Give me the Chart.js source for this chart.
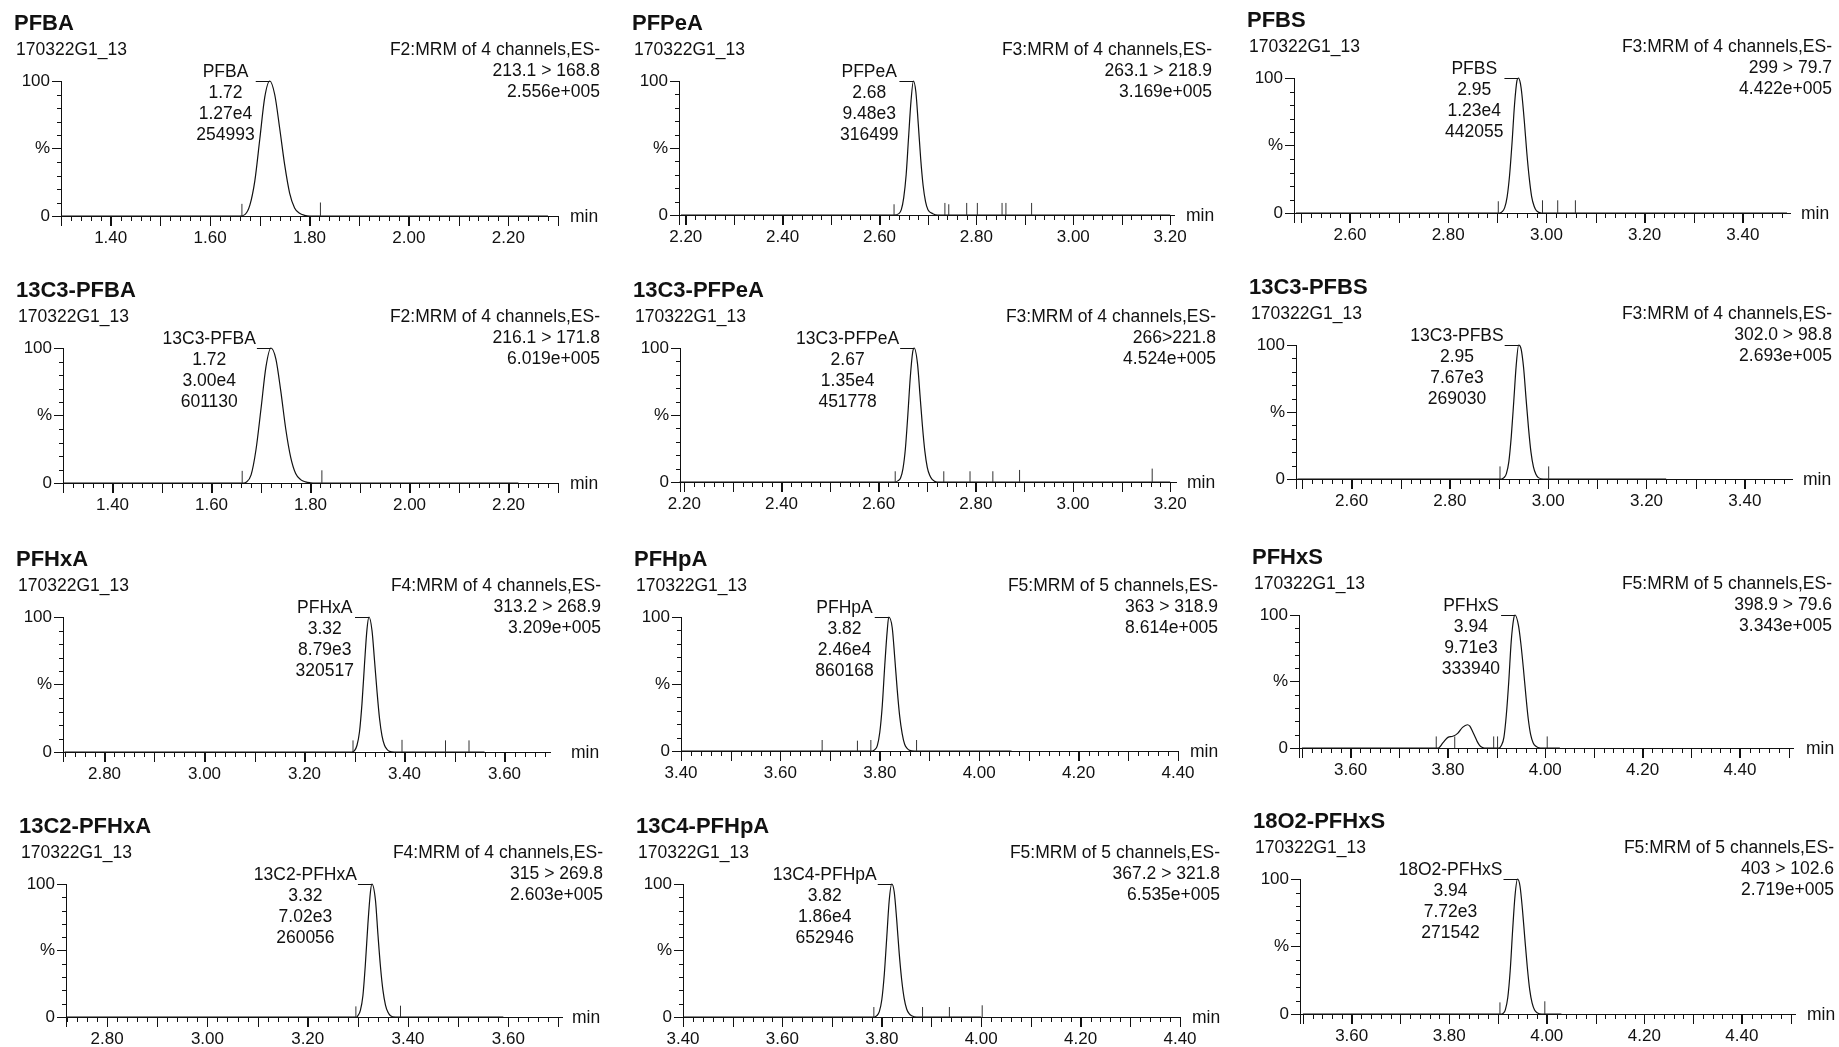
<!DOCTYPE html>
<html>
<head>
<meta charset="utf-8">
<title>Cromatogramas MRM 170322G1_13</title>
<script src="https://cdn.jsdelivr.net/npm/chart.js@4.4.1/dist/chart.umd.min.js"></script>
<style>
  html, body { margin: 0; padding: 0; background: #ffffff; }
  body { width: 1839px; height: 1047px; position: relative; overflow: hidden; }
  canvas { position: absolute; }
</style>
</head>
<body>
<script>
const muestra = '170322G1_13';

const compuestos = ['PFBA', 'PFPeA', 'PFBS', '13C3-PFBA', '13C3-PFPeA', '13C3-PFBS',
                    'PFHxA', 'PFHpA', 'PFHxS', '13C2-PFHxA', '13C4-PFHpA', '18O2-PFHxS'];

const funciones = ['F2:MRM of 4 channels,ES-', 'F3:MRM of 4 channels,ES-', 'F3:MRM of 4 channels,ES-',
                   'F2:MRM of 4 channels,ES-', 'F3:MRM of 4 channels,ES-', 'F3:MRM of 4 channels,ES-',
                   'F4:MRM of 4 channels,ES-', 'F5:MRM of 5 channels,ES-', 'F5:MRM of 5 channels,ES-',
                   'F4:MRM of 4 channels,ES-', 'F5:MRM of 5 channels,ES-', 'F5:MRM of 5 channels,ES-'];

const transiciones = ['213.1 > 168.8', '263.1 > 218.9', '299 > 79.7',
                      '216.1 > 171.8', '266>221.8', '302.0 > 98.8',
                      '313.2 > 268.9', '363 > 318.9', '398.9 > 79.6',
                      '315 > 269.8', '367.2 > 321.8', '403 > 102.6'];

const intensidades = ['2.556e+005', '3.169e+005', '4.422e+005',
                      '6.019e+005', '4.524e+005', '2.693e+005',
                      '3.209e+005', '8.614e+005', '3.343e+005',
                      '2.603e+005', '6.535e+005', '2.719e+005'];

// etiqueta del pico: tiempo de retencion, altura, area
const picoTR = ['1.72', '2.68', '2.95', '1.72', '2.67', '2.95', '3.32', '3.82', '3.94', '3.32', '3.82', '3.94'];
const picoAltura = ['1.27e4', '9.48e3', '1.23e4', '3.00e4', '1.35e4', '7.67e3',
                    '8.79e3', '2.46e4', '9.71e3', '7.02e3', '1.86e4', '7.72e3'];
const picoArea = ['254993', '316499', '442055', '601130', '451778', '269030',
                  '320517', '860168', '333940', '260056', '652946', '271542'];

// rango del eje de tiempo (min)
const xMin = [1.30, 2.186, 2.486, 1.30, 2.191, 2.487, 2.717, 3.40, 3.494, 2.718, 3.40, 3.494];
const xMax = [2.30, 3.208, 3.496, 2.30, 3.212, 3.496, 3.691, 4.40, 4.509, 3.707, 4.40, 4.509];

// etiquetas de los ejes
const ticksPFBA = [1.40, 1.60, 1.80, 2.00, 2.20];
const ticksPFPeA = [2.20, 2.40, 2.60, 2.80, 3.00, 3.20];
const ticksPFBS = [2.60, 2.80, 3.00, 3.20, 3.40];
const ticksPFHxA = [2.80, 3.00, 3.20, 3.40, 3.60];
const ticksPFHpA = [3.40, 3.60, 3.80, 4.00, 4.20, 4.40];
const ticksPFHxS = [3.60, 3.80, 4.00, 4.20, 4.40];
const valoresY = [0, 50, 100];
const etiquetasY = ['0', '%', '100'];

// trazas (tiempo en min, senal en %)
const tiempoPFBA = [1.30, 1.66, 1.67, 1.68, 1.69, 1.70, 1.71, 1.72, 1.73, 1.74, 1.75, 1.76, 1.77, 1.78, 1.79, 1.80, 2.28];
const senalPFBA  = [0,    0,    1,    8,    26,   57,   88,   100,  90,   65,   38,   17,   6,    2,    0.5,  0,    0];
const marcasPFBA = [[1.664, 9], [1.822, 10]];

const tiempoPFPeA = [2.19, 2.63, 2.64, 2.645, 2.65, 2.655, 2.66, 2.665, 2.67, 2.675, 2.68, 2.685, 2.69, 2.695, 2.70, 2.71, 2.72, 3.20];
const senalPFPeA  = [0,    0,    1,    4,     13,   30,    58,   85,    100,  92,    68,   42,    22,   10,    4,    1,    0,    0];
const marcasPFPeA = [[2.63, 8], [2.735, 9], [2.743, 8], [2.78, 9], [2.802, 9], [2.853, 9], [2.861, 9], [2.914, 9]];

const tiempoPFBS = [2.49, 2.905, 2.91, 2.915, 2.92, 2.925, 2.93, 2.935, 2.94, 2.943, 2.947, 2.95, 2.955, 2.96, 2.965, 2.97, 2.975, 2.98, 2.99, 3.49];
const senalPFBS  = [0,    0,     1,    4,     12,   28,    52,   80,    98,   100,   96,    88,   68,    45,   26,    12,   5,     1.5,  0,    0];
const marcasPFBS = [[2.902, 8.7], [2.992, 9.4], [3.023, 9.4], [3.059, 9.4]];

const tiempo13C3PFBA = [1.30, 1.665, 1.67, 1.68, 1.69, 1.70, 1.71, 1.72, 1.73, 1.74, 1.75, 1.76, 1.77, 1.78, 1.79, 1.80, 1.81, 2.22];
const senal13C3PFBA  = [0,    0,     0.5,  6,    25,   55,   86,   100,  92,   68,   40,   19,   7,    2.5,  0.8,  0.2,  0,    0];
const marcas13C3PFBA = [[1.662, 9], [1.823, 9.4]];

const tiempo13C3PFPeA = [2.19, 2.635, 2.64, 2.645, 2.65, 2.655, 2.66, 2.665, 2.67, 2.673, 2.68, 2.685, 2.69, 2.695, 2.70, 2.705, 2.71, 2.72, 3.20];
const senal13C3PFPeA  = [0,    0,     1,    3,     10,   25,    50,   78,    97,   100,   88,   65,    42,   23,    11,   5,     2,    0,    0];
const marcas13C3PFPeA = [[2.634, 8], [2.734, 8], [2.788, 8], [2.835, 8], [2.89, 9], [3.163, 10]];

const tiempo13C3PFBS = [2.49, 2.905, 2.91, 2.915, 2.92, 2.925, 2.93, 2.935, 2.94, 2.945, 2.95, 2.955, 2.96, 2.965, 2.97, 2.975, 2.98, 2.99, 3.24];
const senal13C3PFBS  = [0,    0,     1,    4,     13,   32,    58,   85,    100,  97,    83,   60,    38,   20,    9,    3.5,   1,    0,    0];
const marcas13C3PFBS = [[2.902, 9.4], [3.001, 9.4]];

const tiempoPFHxA = [2.72, 3.295, 3.30, 3.305, 3.31, 3.315, 3.32, 3.325, 3.329, 3.335, 3.34, 3.345, 3.35, 3.355, 3.36, 3.365, 3.37, 3.38, 3.56];
const senalPFHxA  = [0,    0,     1,    5,     15,   36,    65,   91,    100,   90,    68,   45,    25,   12,    5,    2,     0.5,  0,    0];
const marcasPFHxA = [[3.297, 8.6], [3.395, 9], [3.482, 8.6], [3.529, 8.6]];

const tiempoPFHpA = [3.40, 3.785, 3.79, 3.795, 3.80, 3.805, 3.81, 3.815, 3.818, 3.825, 3.83, 3.835, 3.84, 3.845, 3.85, 3.855, 3.86, 3.87, 4.065];
const senalPFHpA  = [0,    0,     1,    4,     14,   34,    64,   90,    100,   92,    70,   46,    26,   13,    5,    2,     0.5,  0,    0];
const marcasPFHpA = [[3.684, 8.2], [3.755, 7.7], [3.782, 8.2], [3.874, 8.2]];

const tiempoPFHxS = [3.50, 3.78, 3.79, 3.80, 3.81, 3.82, 3.83, 3.84, 3.845, 3.85, 3.855, 3.86, 3.865, 3.87, 3.875, 3.905,
                     3.91, 3.915, 3.92, 3.925, 3.93, 3.935, 3.938, 3.945, 3.95, 3.955, 3.96, 3.965, 3.97, 3.975, 3.98, 3.99, 4.03];
const senalPFHxS  = [0,    0,    4,    8,    8.8,  11,   15.5, 17.5, 16.5,  13,   9,     5,    2,     0.5,  0,     0,
                     2,    8,     25,   50,    80,   97,    100,   92,    78,   60,    40,   22,    10,   4,     1.5,  0,    0];
const marcasPFHxS = [[3.776, 8.7], [3.814, 8.7], [3.894, 8.7], [3.902, 8.7], [4.004, 8.7]];

const tiempo13C2PFHxA = [2.72, 3.298, 3.30, 3.305, 3.31, 3.315, 3.32, 3.325, 3.328, 3.335, 3.34, 3.345, 3.35, 3.355, 3.36, 3.365, 3.375, 3.59];
const senal13C2PFHxA  = [0,    0,     1,    5,     16,   40,    70,   94,    100,   88,    62,   38,    20,   9,     3.5,  1,     0,     0];
const marcas13C2PFHxA = [[3.296, 8], [3.385, 8.5]];

const tiempo13C4PFHpA = [3.40, 3.785, 3.79, 3.795, 3.80, 3.805, 3.81, 3.815, 3.82, 3.825, 3.83, 3.835, 3.84, 3.845, 3.85, 3.855, 3.86, 3.87, 4.00];
const senal13C4PFHpA  = [0,    0,     1,    4,     13,   32,    60,   88,    100,  94,    73,   48,    28,   14,    6,    2.5,   1,    0,    0];
const marcas13C4PFHpA = [[3.784, 7.5], [3.882, 7.5], [3.936, 7.5], [4.002, 8.8]];

const tiempo18O2PFHxS = [3.50, 3.908, 3.912, 3.915, 3.92, 3.925, 3.93, 3.935, 3.94, 3.945, 3.95, 3.955, 3.96, 3.965, 3.97, 3.975, 3.98, 3.99, 4.03];
const senal18O2PFHxS  = [0,    0,     1,     3,     12,   32,    62,   88,    100,  95,    78,   56,    35,   18,    8,    3,     1,    0,    0];
const marcas18O2PFHxS = [[3.904, 8.6], [3.996, 9.4]];

// agrupar por panel (mismo orden que compuestos)
const tiempos = [tiempoPFBA, tiempoPFPeA, tiempoPFBS, tiempo13C3PFBA, tiempo13C3PFPeA, tiempo13C3PFBS,
                 tiempoPFHxA, tiempoPFHpA, tiempoPFHxS, tiempo13C2PFHxA, tiempo13C4PFHpA, tiempo18O2PFHxS];
const senales = [senalPFBA, senalPFPeA, senalPFBS, senal13C3PFBA, senal13C3PFPeA, senal13C3PFBS,
                 senalPFHxA, senalPFHpA, senalPFHxS, senal13C2PFHxA, senal13C4PFHpA, senal18O2PFHxS];
const marcas = [marcasPFBA, marcasPFPeA, marcasPFBS, marcas13C3PFBA, marcas13C3PFPeA, marcas13C3PFBS,
                marcasPFHxA, marcasPFHpA, marcasPFHxS, marcas13C2PFHxA, marcas13C4PFHpA, marcas18O2PFHxS];
const ticksX = [ticksPFBA, ticksPFPeA, ticksPFBS, ticksPFBA, ticksPFPeA, ticksPFBS,
                ticksPFHxA, ticksPFHpA, ticksPFHxS, ticksPFHxA, ticksPFHpA, ticksPFHxS];

// ---------------- disposicion en la pagina (px) ----------------
// area de trazado de cada panel: [izquierda, arriba, derecha, abajo]
const cajas = [
  [61, 81, 558, 216], [679, 81, 1174, 215], [1294, 78, 1790, 213],
  [63, 348, 558, 483], [680, 348, 1176, 482], [1296, 345, 1792, 479],
  [63, 617, 550, 752], [681, 617, 1178, 751], [1299, 615, 1793, 748],
  [66, 884, 562, 1017], [683, 884, 1180, 1017], [1300, 879, 1795, 1014]
];
const columnas = [0, 618, 1232];
const anchos = [618, 614, 607];
const derechaCabecera = [600, 1212, 1832, 600, 1216, 1832, 601, 1218, 1832, 603, 1220, 1834];
const separacionMin = [12, 12, 11, 12, 11, 11, 21, 12, 13, 10, 12, 12];

const FUENTE = "'Liberation Sans', Arial, Helvetica, sans-serif";
const NEGRO = '#111111';

// plugin para textos, ticks menores y linea guia del pico
const decoracion = {
  id: 'decoracion',
  afterDraw(chart, args, op) {
    const ctx = chart.ctx;
    const xs = chart.scales.x;
    const ys = chart.scales.y;
    const area = chart.chartArea;
    ctx.save();
    ctx.strokeStyle = NEGRO;
    ctx.fillStyle = NEGRO;
    ctx.lineWidth = 1;

    // ticks menores del eje x (cada 0.02, largos cada 0.1)
    ctx.beginPath();
    const ini = Math.ceil(xs.min / 0.02 - 1e-6);
    const fin = Math.floor(xs.max / 0.02 + 1e-6);
    for (let k = ini; k <= fin; k++) {
      const px = Math.round(xs.getPixelForValue(k * 0.02)) + 0.5;
      const largo = (k % 5 === 0) ? 10 : 5;
      ctx.moveTo(px, area.bottom);
      ctx.lineTo(px, area.bottom + largo);
    }
    ctx.moveTo(Math.round(area.left) + 0.5, area.bottom);
    ctx.lineTo(Math.round(area.left) + 0.5, area.bottom + 10);
    // ticks menores del eje y
    for (let v = 10; v < 100; v += 10) {
      if (v === 50) continue;
      const py = Math.round(ys.getPixelForValue(v)) + 0.5;
      ctx.moveTo(area.left - 4, py);
      ctx.lineTo(area.left, py);
    }
    ctx.stroke();

    // titulo y cabecera
    ctx.textBaseline = 'alphabetic';
    ctx.textAlign = 'left';
    ctx.font = 'bold 22px ' + FUENTE;
    ctx.fillText(op.titulo, area.left - 47, area.top - 51);
    ctx.font = '17.5px ' + FUENTE;
    ctx.fillText(muestra, area.left - 45, area.top - 26);
    ctx.textAlign = 'right';
    op.cabecera.forEach((t, k) => ctx.fillText(t, op.xCabecera, area.top - 26 + k * 21));

    // unidad del eje x
    ctx.textAlign = 'left';
    ctx.fillText('min', area.right + op.sepMin, area.bottom + 6);

    // etiqueta del pico con linea guia
    const datos = chart.data.datasets[1].data;
    let iMax = 0;
    datos.forEach((p, k) => { if (p.y > datos[iMax].y) iMax = k; });
    const xPico = xs.getPixelForValue(datos[iMax].x);
    const yPico = Math.round(ys.getPixelForValue(100)) + 0.5;
    ctx.beginPath();
    ctx.moveTo(xPico - 14, yPico);
    ctx.lineTo(xPico, yPico);
    ctx.stroke();
    const anchoMax = Math.max(...op.pico.map(t => ctx.measureText(t).width));
    const cx = xPico - 15 - anchoMax / 2;
    ctx.textAlign = 'center';
    op.pico.forEach((t, k) => ctx.fillText(t, cx, area.top - 4 + k * 21));
    ctx.restore();
  }
};

function crearPanel(i) {
  const [L, T, R, B] = cajas[i];
  const col = i % 3;
  const izq = columnas[col];
  const ancho = anchos[col];
  const arriba = T - 82;
  const alto = (B - T) + 82 + 36;

  const lienzo = document.createElement('canvas');
  lienzo.width = ancho;
  lienzo.height = alto;
  lienzo.style.left = izq + 'px';
  lienzo.style.top = arriba + 'px';
  lienzo.style.width = ancho + 'px';
  lienzo.style.height = alto + 'px';
  document.body.appendChild(lienzo);

  const traza = tiempos[i].map((t, k) => ({ x: t, y: senales[i][k] }));
  const marcasDatos = [];
  marcas[i].forEach(([t, h]) => {
    marcasDatos.push({ x: t, y: 0 }, { x: t, y: h }, { x: t, y: null });
  });

  new Chart(lienzo.getContext('2d'), {
    type: 'line',
    data: {
      datasets: [
        { data: marcasDatos, borderColor: '#333333', borderWidth: 1, pointRadius: 0, spanGaps: false, tension: 0, clip: 6 },
        { data: traza, borderColor: NEGRO, borderWidth: 1.2, pointRadius: 0, cubicInterpolationMode: 'monotone', clip: 6 }
      ]
    },
    options: {
      responsive: false,
      animation: false,
      devicePixelRatio: 1,
      events: [],
      layout: { padding: { top: 82, right: ancho - (R - izq), left: 0, bottom: 0 } },
      plugins: {
        legend: { display: false },
        tooltip: { enabled: false },
        decoracion: {
          titulo: compuestos[i],
          cabecera: [funciones[i], transiciones[i], intensidades[i]],
          pico: [compuestos[i], picoTR[i], picoAltura[i], picoArea[i]],
          xCabecera: derechaCabecera[i] - izq,
          sepMin: separacionMin[i]
        }
      },
      scales: {
        x: {
          type: 'linear',
          min: xMin[i],
          max: xMax[i],
          afterBuildTicks: (s) => { s.ticks = ticksX[i].map(v => ({ value: v })); },
          afterFit: (s) => { s.height = 36; },
          ticks: {
            autoSkip: false, maxRotation: 0, padding: 2, color: NEGRO,
            font: { family: FUENTE, size: 17 },
            callback: (v) => Number(v).toFixed(2)
          },
          grid: { display: true, drawOnChartArea: false, drawTicks: true, tickLength: 10, color: NEGRO, lineWidth: 1 },
          border: { display: true, color: NEGRO, width: 1 }
        },
        y: {
          type: 'linear',
          min: 0,
          max: 100,
          afterBuildTicks: (s) => { s.ticks = valoresY.map(v => ({ value: v })); },
          afterFit: (s) => { s.width = L - izq; },
          ticks: {
            autoSkip: false, padding: 2, color: NEGRO,
            font: { family: FUENTE, size: 17 },
            callback: (v) => etiquetasY[valoresY.indexOf(v)]
          },
          grid: { display: true, drawOnChartArea: false, drawTicks: true, tickLength: 9, color: NEGRO, lineWidth: 1 },
          border: { display: true, color: NEGRO, width: 1 }
        }
      }
    },
    plugins: [decoracion]
  });
}

// dibujar los 12 paneles
for (let i = 0; i < compuestos.length; i++) {
  crearPanel(i);
}
</script>
</body>
</html>
